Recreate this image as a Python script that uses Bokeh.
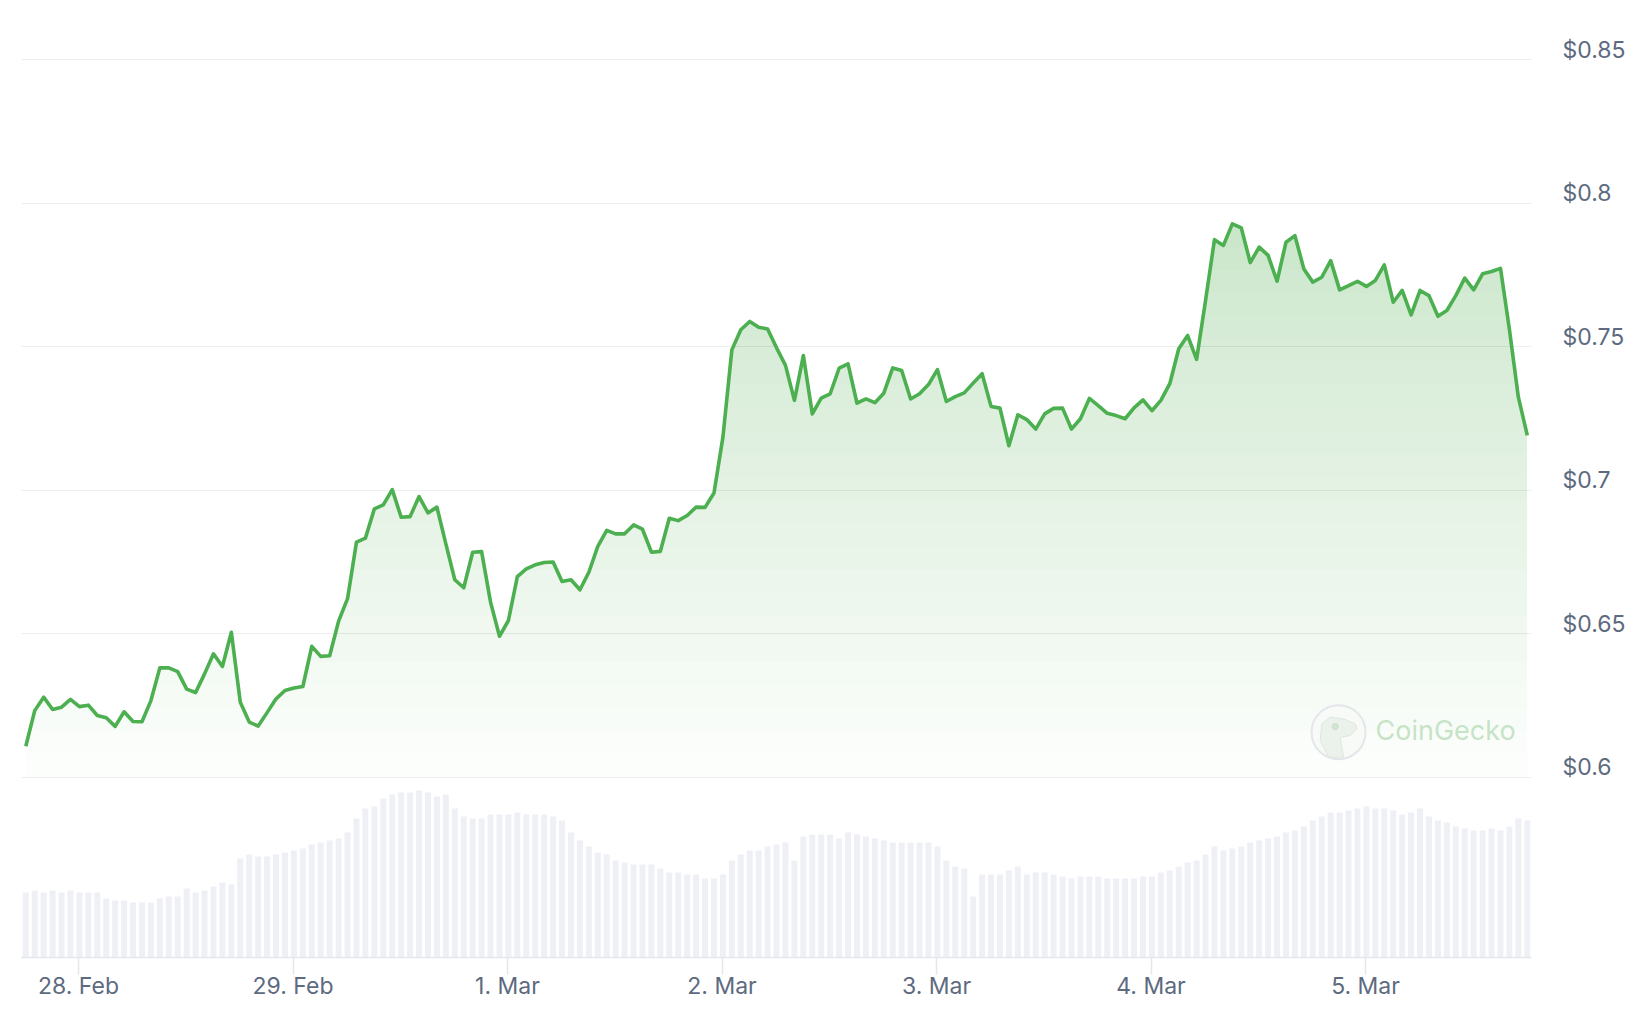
import numpy as np
from bokeh.plotting import figure
from bokeh.models import Range1d, LinearAxis, FixedTicker, Grid
from bokeh.embed import file_html
from bokeh.resources import INLINE
from bokeh.core.properties import value

# ---------------- data ----------------
# hourly samples; hours counted from 28 Feb 00:00
start_hour = -5.9

price = [
    0.6108, 0.6232, 0.6279, 0.6236, 0.6244, 0.6271, 0.6246, 0.6251, 0.6215, 0.6207,
    0.6177, 0.6228, 0.6194, 0.6193, 0.6267, 0.6381, 0.6381, 0.6368, 0.6307, 0.6295,
    0.6360, 0.6430, 0.6386, 0.6505, 0.6261, 0.6192, 0.6178, 0.6225, 0.6273, 0.6302,
    0.6311, 0.6316, 0.6456, 0.6421, 0.6423, 0.6544, 0.6622, 0.6819, 0.6833, 0.6935,
    0.6949, 0.7002, 0.6906, 0.6908, 0.6978, 0.6921, 0.6941, 0.6813, 0.6688, 0.6660,
    0.6784, 0.6786, 0.6610, 0.6491, 0.6546, 0.6699, 0.6726, 0.6740, 0.6748, 0.6750,
    0.6682, 0.6688, 0.6653, 0.6714, 0.6804, 0.6860, 0.6848, 0.6848, 0.6879, 0.6864,
    0.6784, 0.6787, 0.6902, 0.6894, 0.6912, 0.6941, 0.6940, 0.6990, 0.7185, 0.7489,
    0.7559, 0.7588, 0.7568, 0.7562, 0.7496, 0.7435, 0.7313, 0.7469, 0.7266, 0.7321,
    0.7336, 0.7425, 0.7440, 0.7303, 0.7318, 0.7305, 0.7338, 0.7426, 0.7417, 0.7318,
    0.7336, 0.7368, 0.7420, 0.7309, 0.7326, 0.7339, 0.7373, 0.7406, 0.7292, 0.7286,
    0.7155, 0.7263, 0.7246, 0.7213, 0.7266, 0.7285, 0.7286, 0.7213, 0.7249, 0.7320,
    0.7295, 0.7268, 0.7260, 0.7249, 0.7287, 0.7315, 0.7277, 0.7313, 0.7371, 0.7493,
    0.7539, 0.7456, 0.7661, 0.7873, 0.7853, 0.7928, 0.7914, 0.7793, 0.7847, 0.7818,
    0.7728, 0.7864, 0.7887, 0.7771, 0.7725, 0.7742, 0.7800, 0.7698, 0.7713, 0.7728,
    0.7710, 0.7731, 0.7785, 0.7655, 0.7696, 0.7611, 0.7696, 0.7678, 0.7606, 0.7626,
    0.7678, 0.7739, 0.7698, 0.7754, 0.7762, 0.7773, 0.7560, 0.7324, 0.7191,
]

# 24h volume, in units of $100k (relative)
volume = [
    65, 67, 65, 67, 65, 67, 65, 65, 65, 59,
    57, 57, 55, 55, 55, 59, 61, 61, 69, 65,
    67, 71, 75, 73, 99, 103, 101, 101, 103, 105,
    107, 109, 113, 115, 117, 119, 125, 139, 149, 151,
    159, 163, 165, 165, 167, 165, 161, 163, 149, 141,
    139, 139, 143, 143, 143, 145, 143, 143, 143, 141,
    137, 125, 117, 111, 105, 103, 97, 95, 93, 93,
    93, 89, 85, 85, 83, 83, 79, 79, 83, 97,
    103, 107, 107, 111, 113, 115, 97, 121, 123, 123,
    123, 119, 125, 123, 121, 119, 117, 115, 115, 115,
    115, 115, 111, 97, 91, 89, 61, 83, 83, 83,
    87, 91, 83, 85, 85, 83, 81, 79, 81, 81,
    81, 79, 79, 79, 79, 81, 81, 85, 87, 91,
    95, 97, 103, 111, 107, 109, 111, 115, 117, 119,
    121, 125, 127, 131, 137, 141, 145, 145, 147, 149,
    151, 149, 149, 147, 143, 145, 149, 141, 137, 135,
    131, 129, 127, 127, 129, 127, 131, 139, 137,
]

x_tick_hours = [0, 24, 48, 72, 96, 120, 144]
x_tick_labels = ["28. Feb", "29. Feb", "1. Mar", "2. Mar", "3. Mar", "4. Mar", "5. Mar"]
y_ticks = [0.6, 0.65, 0.7, 0.75, 0.8, 0.85]
y_tick_labels = ["$0.6", "$0.65", "$0.7", "$0.75", "$0.8", "$0.85"]
watermark = "CoinGecko"

# ---------------- styling ----------------
GREEN = "#4caf50"
LABEL_COLOR = "#5d6a80"
GRID_COLOR = "#eceef3"
BAR_COLOR = "#eef0f5"
FONT = "Inter"

hours = start_hour + np.arange(len(price))

W, H = 1630, 1008
B_LEFT, B_TOP, B_BOTTOM = 21, 30, 51
B_RIGHT = W - 1531
frame_h = H - B_TOP - B_BOTTOM
x0, x1 = -6.38, 162.57
y0, y1 = 0.53718, 0.860174
px_per_unit = frame_h / (y1 - y0)
px_per_hour = (W - B_LEFT - B_RIGHT) / (x1 - x0)

p = figure(
    width=W, height=H, output_backend="svg", toolbar_location=None,
    x_range=Range1d(x0, x1), y_range=Range1d(y0, y1),
    y_axis_location=None,
    min_border_left=B_LEFT, min_border_right=B_RIGHT,
    min_border_top=B_TOP, min_border_bottom=B_BOTTOM,
)
p.outline_line_color = None
p.background_fill_color = "white"
p.border_fill_color = "white"
p.xgrid.visible = False
p.ygrid.visible = False

grid = Grid(dimension=1, ticker=FixedTicker(ticks=y_ticks),
            grid_line_color=GRID_COLOR, grid_line_width=1)
p.add_layout(grid)

shift = 10 / px_per_unit  # labels sit a little above their grid lines
p.extra_y_ranges = {
    "lbl": Range1d(y0 - shift, y1 - shift),
    "vol": Range1d(0, frame_h),
}

# right price labels
ay = LinearAxis(y_range_name="lbl", ticker=FixedTicker(ticks=y_ticks),
                major_label_overrides=dict(zip(y_ticks, y_tick_labels)))
ay.axis_line_color = None
ay.major_tick_line_color = None
ay.minor_tick_line_color = None
ay.major_tick_in = 0
ay.major_tick_out = 0
ay.major_label_standoff = 31
ay.major_label_text_font = FONT
ay.major_label_text_font_size = "23px"
ay.major_label_text_color = LABEL_COLOR
p.add_layout(ay, "right")

# bottom date axis
ax = p.xaxis[0]
ax.ticker = FixedTicker(ticks=x_tick_hours)
ax.major_label_overrides = dict(zip(x_tick_hours, x_tick_labels))
ax.axis_line_color = "#e4e7ee"
ax.axis_line_width = 1.5
ax.major_tick_line_color = "#e4e7ee"
ax.major_tick_line_width = 1.5
ax.major_tick_in = 0
ax.major_tick_out = 17
ax.minor_tick_line_color = None
ax.major_label_standoff = -3
ax.major_label_text_font = FONT
ax.major_label_text_font_size = "23px"
ax.major_label_text_color = LABEL_COLOR

# volume bars
p.vbar(x=hours, top=volume, bottom=0, width=0.67, y_range_name="vol",
       fill_color=BAR_COLOR, line_color=None)

# gradient area under the price line, built from stacked translucent layers
def clip_above(xs, ys, level):
    ox, oy = [], []
    for i in range(len(xs)):
        if i > 0:
            a, b = ys[i - 1], ys[i]
            if (a - level) * (b - level) < 0:
                f = (level - a) / (b - a)
                ox.append(xs[i - 1] + f * (xs[i] - xs[i - 1]))
                oy.append(level)
        ox.append(xs[i])
        oy.append(max(ys[i], level))
    return ox, oy

base = y_ticks[0]
top = max(price)
zero_at = base - 24 / px_per_unit
a_top = 0.27

def target_alpha(y):
    return max(0.0, a_top * (y - zero_at) / (top - zero_at))

N = 24
levels = np.linspace(base, top, N + 1)
prev = 0.0
xs_list = list(hours)
for k in range(N):
    lev = levels[k]
    A = target_alpha(0.5 * (levels[k] + levels[k + 1]))
    ak = 1 - (1 - A) / (1 - prev)
    prev = A
    if ak <= 0:
        continue
    ox, oy = clip_above(xs_list, price, lev)
    p.varea(x=ox, y1=[lev] * len(ox), y2=oy, fill_color=GREEN, fill_alpha=ak)

# price line
p.line(hours, price, line_color=GREEN, line_width=3.6, line_join="round")

# watermark (logo circle + gecko head + word mark)
wm_x, wm_y = 140.98, 0.61568
p.scatter(x=[wm_x], y=[wm_y], size=54, marker="circle",
          fill_color="#f7f9f7", fill_alpha=0.85, line_color="#e3e6ea", line_width=2)
head_dx = [-10, -18.3, -16.7, -8.3, 5, 16.7, 18.3, 11.7, 1.7, 3.3, 5]
head_dy = [25, 8.3, -8.3, -15, -13.3, -8.3, -3.3, 3.3, 5, 15, 25]
p.patch(x=[wm_x + d / px_per_hour for d in head_dx],
        y=[wm_y - d / px_per_unit for d in head_dy],
        fill_color="#e9f0e9", fill_alpha=0.9, line_color="#e0e6e0", line_width=1)
p.scatter(x=[wm_x - 3.3 / px_per_hour], y=[wm_y + 5.7 / px_per_unit], size=6,
          marker="circle", fill_color="#d3e6d3", line_color="#c9dcc9")
p.text(x=[wm_x + 37 / px_per_hour], y=[wm_y + 1.7 / px_per_unit], text=[watermark],
       text_font=value(FONT), text_font_size="27px", text_color="#bfe0bf",
       text_alpha=0.9, text_baseline="middle", text_align="left")

open("out.html", "w").write(file_html(p, INLINE))
